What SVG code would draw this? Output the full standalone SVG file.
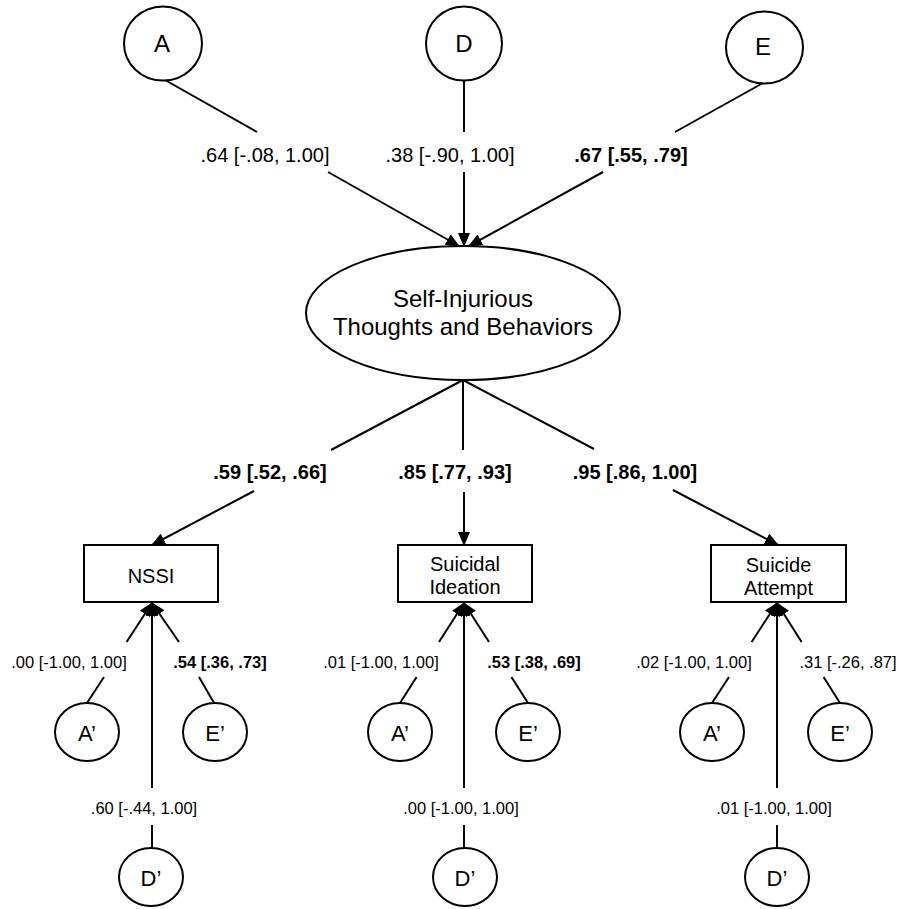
<svg xmlns="http://www.w3.org/2000/svg" width="898" height="909" viewBox="0 0 898 909">
<style>
.shape{fill:#fff;stroke:#000;stroke-width:2}
.ln{fill:none;stroke:#000;stroke-width:2}
.arr{marker-end:url(#ah)}
text{font-family:"Liberation Sans",Arial,sans-serif;fill:#000;text-anchor:middle}
.big{font-size:24px}
.node{font-size:20px}
.prime{font-size:22px}
.lab{font-size:20px}
.sm{font-size:16.5px}
.b{font-weight:bold}
</style>
<defs>
<marker id="ah" markerUnits="userSpaceOnUse" markerWidth="14" markerHeight="12" viewBox="0 0 14 12" refX="13" refY="6" orient="auto">
<path d="M0,0 L14,6 L0,12 z" fill="#000"/>
</marker>
</defs>
<rect width="898" height="909" fill="#fff"/>
<g id="connectors">
<!-- top -->
<line class="ln" x1="165" y1="80" x2="257" y2="132"/>
<line class="ln arr" x1="328" y1="172" x2="459" y2="246"/>
<line class="ln" x1="464" y1="80" x2="464" y2="132"/>
<line class="ln arr" x1="464" y1="172" x2="464" y2="246"/>
<line class="ln" x1="763" y1="83" x2="675" y2="132"/>
<line class="ln arr" x1="603" y1="172" x2="469" y2="246"/>
<!-- loadings -->
<line class="ln" x1="463" y1="380" x2="331" y2="450"/>
<line class="ln arr" x1="254" y1="491" x2="152" y2="545"/>
<line class="ln" x1="463" y1="380" x2="463" y2="450"/>
<line class="ln arr" x1="464" y1="492" x2="464" y2="545"/>
<line class="ln" x1="463" y1="380" x2="594" y2="449"/>
<line class="ln arr" x1="673" y1="490" x2="778" y2="545"/>
<!-- NSSI residuals -->
<line class="ln" x1="87" y1="703" x2="104" y2="677"/>
<line class="ln arr" x1="126.6" y1="642" x2="152" y2="603"/>
<line class="ln" x1="214" y1="703" x2="199" y2="677"/>
<line class="ln arr" x1="179" y1="642" x2="152" y2="603"/>
<line class="ln" x1="152" y1="848" x2="152" y2="825"/>
<line class="ln arr" x1="152" y1="788" x2="152" y2="603"/>
<!-- SI residuals -->
<line class="ln" x1="400" y1="703" x2="416.6" y2="677"/>
<line class="ln arr" x1="439" y1="642" x2="464" y2="603"/>
<line class="ln" x1="528" y1="703" x2="511.4" y2="677"/>
<line class="ln arr" x1="489" y1="642" x2="464" y2="603"/>
<line class="ln" x1="464" y1="848" x2="464" y2="825"/>
<line class="ln arr" x1="464" y1="788" x2="464" y2="603"/>
<!-- SA residuals -->
<line class="ln" x1="712" y1="703" x2="729" y2="677"/>
<line class="ln arr" x1="751.6" y1="642" x2="777" y2="603"/>
<line class="ln" x1="840" y1="703" x2="823.6" y2="677"/>
<line class="ln arr" x1="801.6" y1="642" x2="777" y2="603"/>
<line class="ln" x1="777" y1="848" x2="777" y2="825"/>
<line class="ln arr" x1="777" y1="788" x2="777" y2="603"/>
</g>
<g id="labels">
<text class="lab" x="265" y="162">.64 [-.08, 1.00]</text>
<text class="lab" x="450" y="162">.38 [-.90, 1.00]</text>
<text class="lab b" x="631" y="162">.67 [.55, .79]</text>
<text class="lab b" x="270" y="479">.59 [.52, .66]</text>
<text class="lab b" x="455" y="479">.85 [.77, .93]</text>
<text class="lab b" x="635" y="479">.95 [.86, 1.00]</text>
<text class="sm" x="69" y="668">.00 [-1.00, 1.00]</text>
<text class="sm b" x="220" y="668">.54 [.36, .73]</text>
<text class="sm" x="144" y="814">.60 [-.44, 1.00]</text>
<text class="sm" x="381" y="668">.01 [-1.00, 1.00]</text>
<text class="sm b" x="534" y="668">.53 [.38, .69]</text>
<text class="sm" x="461" y="814">.00 [-1.00, 1.00]</text>
<text class="sm" x="694" y="668">.02 [-1.00, 1.00]</text>
<text class="sm" x="848" y="668">.31 [-.26, .87]</text>
<text class="sm" x="774" y="814">.01 [-1.00, 1.00]</text>
</g>
<g id="A"><ellipse class="shape" cx="163" cy="43.5" rx="39" ry="37"/><text class="big" x="162" y="52">A</text></g>
<g id="D"><ellipse class="shape" cx="464" cy="43.5" rx="38" ry="37"/><text class="big" x="464" y="52">D</text></g>
<g id="E"><ellipse class="shape" cx="764.5" cy="47.5" rx="38.5" ry="36"/><text class="big" x="763" y="55">E</text></g>
<g id="STB"><ellipse class="shape" cx="463" cy="313" rx="157" ry="67"/><text class="big" x="463" y="307">Self-Injurious</text><text class="big" x="463" y="335">Thoughts and Behaviors</text></g>
<g id="NSSI"><rect class="shape" x="84" y="545" width="134" height="57"/><text class="node" x="151" y="583">NSSI</text></g>
<g id="SI"><rect class="shape" x="398" y="545" width="134" height="57"/><text class="node" x="465" y="571">Suicidal</text><text class="node" x="465" y="594">Ideation</text></g>
<g id="SA"><rect class="shape" x="711" y="545" width="135" height="57"/><text class="node" x="778.5" y="571.5">Suicide</text><text class="node" x="778.5" y="595">Attempt</text></g>
<g id="NSSI_A"><ellipse class="shape" cx="87" cy="732" rx="32" ry="29"/><text class="prime" x="87" y="741">A’</text></g>
<g id="NSSI_E"><ellipse class="shape" cx="215" cy="732" rx="32" ry="29"/><text class="prime" x="215" y="741">E’</text></g>
<g id="NSSI_D"><ellipse class="shape" cx="151" cy="877" rx="32" ry="29"/><text class="prime" x="151" y="886">D’</text></g>
<g id="SI_A"><ellipse class="shape" cx="400" cy="732" rx="32" ry="29"/><text class="prime" x="400" y="741">A’</text></g>
<g id="SI_E"><ellipse class="shape" cx="528" cy="732" rx="32" ry="29"/><text class="prime" x="528" y="741">E’</text></g>
<g id="SI_D"><ellipse class="shape" cx="465" cy="877" rx="32" ry="29"/><text class="prime" x="465" y="886">D’</text></g>
<g id="SA_A"><ellipse class="shape" cx="712" cy="732" rx="32" ry="29"/><text class="prime" x="712" y="741">A’</text></g>
<g id="SA_E"><ellipse class="shape" cx="840" cy="732" rx="32" ry="29"/><text class="prime" x="840" y="741">E’</text></g>
<g id="SA_D"><ellipse class="shape" cx="777" cy="877" rx="32" ry="29"/><text class="prime" x="777" y="886">D’</text></g>
</svg>
